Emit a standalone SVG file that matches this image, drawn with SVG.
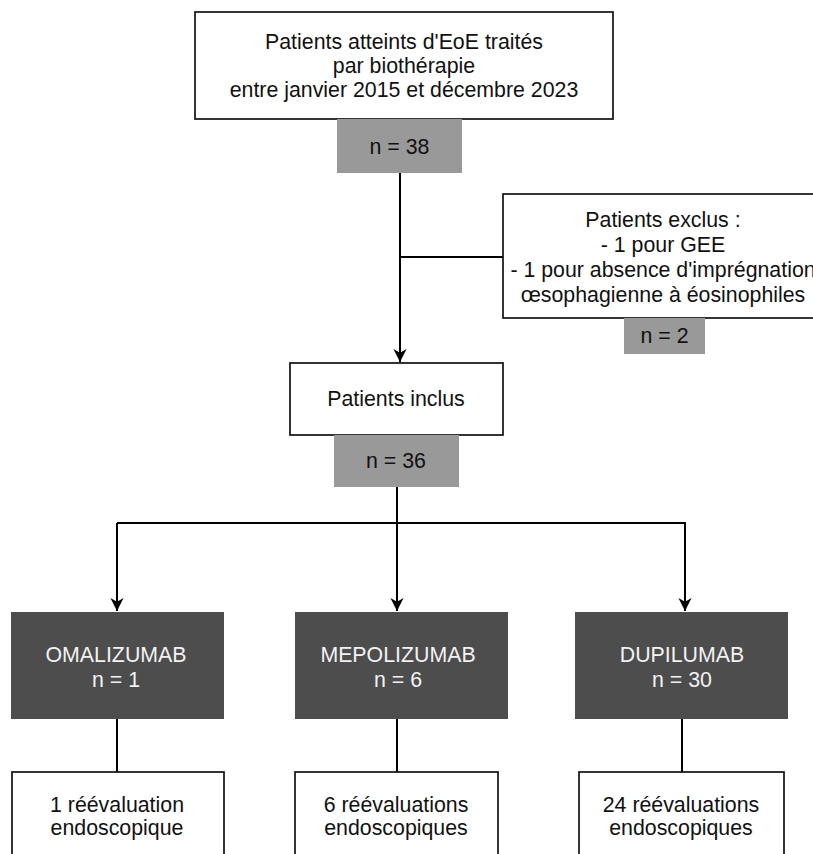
<svg xmlns="http://www.w3.org/2000/svg" width="813" height="854" viewBox="0 0 813 854">
<defs>
<style>
text{font-family:"Liberation Sans",Arial,sans-serif;font-size:21.33px;text-anchor:middle;fill:#111}
.box{fill:#fff;stroke:#111;stroke-width:1.7}
.cnt{fill:#999999;stroke:none}
.drug{fill:#4d4d4d;stroke:none}
.drug-t{fill:#f2f2f2}
.edge{fill:none;stroke:#000;stroke-width:2}
</style>
<marker id="arr" viewBox="0 0 16 16" refX="15" refY="8" markerWidth="15" markerHeight="15" markerUnits="userSpaceOnUse" orient="auto">
<path d="M1,1 L15,8 L1,15 L5,8 Z" fill="#000"/>
</marker>
</defs>
<rect width="813" height="854" fill="#fff"/>

<g id="connectors">
<path class="edge" d="M400,173 L400,362" marker-end="url(#arr)"/>
<path class="edge" d="M400,257 L503,257"/>
<path class="edge" d="M397,487 L397,611" marker-end="url(#arr)"/>
<path class="edge" d="M117,523 L685,523 L685,611" marker-end="url(#arr)"/>
<path class="edge" d="M117,523 L117,611" marker-end="url(#arr)"/>
<path class="edge" d="M117,719 L117,772"/>
<path class="edge" d="M397,719 L397,772"/>
<path class="edge" d="M682,719 L682,772"/>
</g>

<g id="n-start">
<rect class="box" x="195" y="12" width="418" height="107"/>
<text x="404" y="49">Patients atteints d'EoE traités</text>
<text x="404" y="73">par biothérapie</text>
<text x="404" y="97">entre janvier 2015 et décembre 2023</text>
</g>
<g id="n-count38">
<rect class="cnt" x="337" y="119" width="125" height="54"/>
<text x="399.5" y="153.5">n = 38</text>
</g>

<g id="n-exclus">
<rect class="box" x="503" y="194" width="320" height="124"/>
<text x="663" y="227">Patients exclus :</text>
<text x="663" y="252">- 1 pour GEE</text>
<text x="663" y="277">- 1 pour absence d'imprégnation</text>
<text x="663" y="302">œsophagienne à éosinophiles</text>
</g>
<g id="n-count2">
<rect class="cnt" x="624" y="318" width="81" height="36"/>
<text x="664.5" y="343">n = 2</text>
</g>

<g id="n-inclus">
<rect class="box" x="290" y="363" width="213" height="72"/>
<text x="396" y="406">Patients inclus</text>
</g>
<g id="n-count36">
<rect class="cnt" x="334" y="435" width="125" height="52"/>
<text x="396" y="468">n = 36</text>
</g>

<g id="n-omalizumab">
<rect class="drug" x="11" y="612" width="213" height="107"/>
<text class="drug-t" x="116" y="662">OMALIZUMAB</text>
<text class="drug-t" x="116" y="687">n = 1</text>
</g>
<g id="n-mepolizumab">
<rect class="drug" x="295" y="612" width="213" height="107"/>
<text class="drug-t" x="398" y="662">MEPOLIZUMAB</text>
<text class="drug-t" x="398" y="687">n = 6</text>
</g>
<g id="n-dupilumab">
<rect class="drug" x="575" y="612" width="213" height="107"/>
<text class="drug-t" x="682" y="662">DUPILUMAB</text>
<text class="drug-t" x="682" y="687">n = 30</text>
</g>

<g id="n-reeval1">
<rect class="box" x="12" y="772" width="212" height="100"/>
<text x="117" y="812">1 réévaluation</text>
<text x="117" y="835">endoscopique</text>
</g>
<g id="n-reeval6">
<rect class="box" x="295" y="772" width="203" height="100"/>
<text x="396" y="812">6 réévaluations</text>
<text x="396" y="835">endoscopiques</text>
</g>
<g id="n-reeval24">
<rect class="box" x="579" y="772" width="205" height="100"/>
<text x="681" y="812">24 réévaluations</text>
<text x="681" y="835">endoscopiques</text>
</g>
</svg>
